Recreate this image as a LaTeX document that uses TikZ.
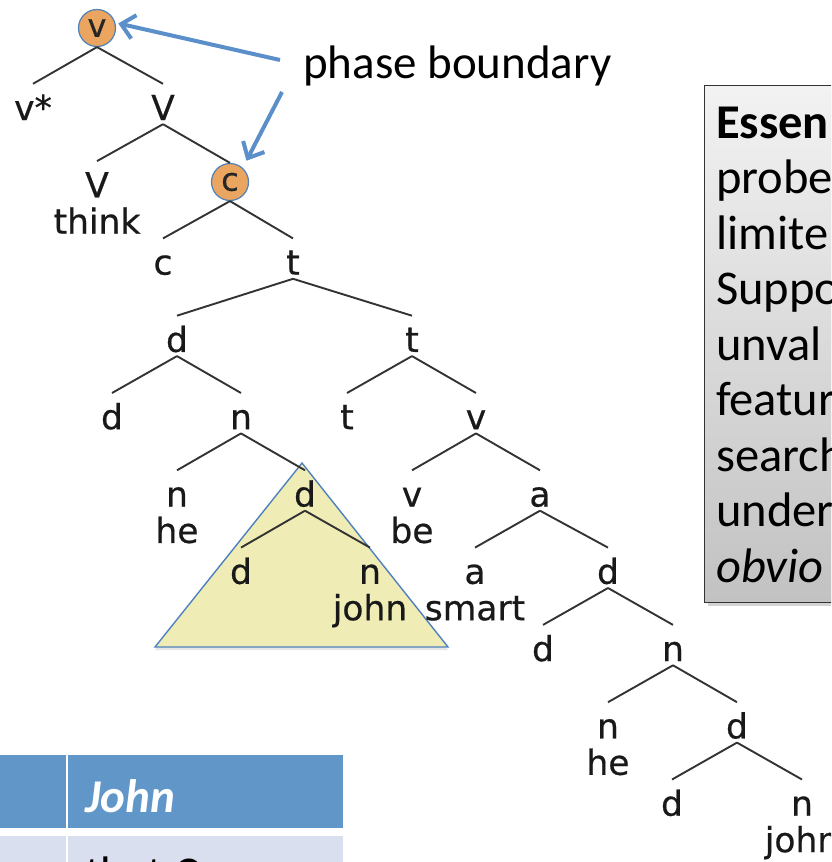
\documentclass[tikz,border=0pt]{standalone}
\usepackage{fontspec}
\setmainfont{Carlito}
\newfontfamily\treefont[FakeBold=0.6]{DejaVu Sans}
\usetikzlibrary{arrows.meta, positioning, shadows}
\definecolor{phaseorange}{HTML}{EAA560}
\definecolor{linkblue}{HTML}{4F81BD}
\definecolor{arrowblue}{HTML}{5B8FC9}
\definecolor{triyellow}{HTML}{EFECB6}
\definecolor{tablehead}{HTML}{6096C8}
\definecolor{tablerow}{HTML}{D9DFEE}

\begin{document}
\begin{tikzpicture}[
    x=1pt, y=-1pt,
    lab/.style={anchor=base, inner sep=0pt, text height=36pt, text depth=4pt, font=\treefont\fontsize{34.5}{36}\selectfont, text=black!90},
    word/.style={inner sep=0pt, text height=32pt, text depth=8pt, font=\treefont\fontsize{34.5}{36}\selectfont, text=black!90},
    phase/.style={circle, draw=linkblue, line width=1.2pt, fill=phaseorange, minimum size=37pt, inner sep=0pt, font=\treefont\fontsize{32}{32}\selectfont, text=black!85},
    edge/.style={draw=black!80, line width=1.9pt},
    arr/.style={-{Straight Barb[length=13pt, width=24pt]}, arrowblue, line width=4pt},
    note/.style={draw=black!80, line width=1.2pt, top color=black!5, bottom color=black!24, drop shadow={shadow xshift=3pt, shadow yshift=-3pt, opacity=0.35}, minimum width=200pt, minimum height=517pt, anchor=north west, inner sep=0pt},
    cellhead/.style={fill=tablehead, inner sep=0pt, anchor=north west},
    cellrow/.style={fill=tablerow, inner sep=0pt, anchor=north west},
]
\useasboundingbox (0,0) rectangle (831,862);
\clip (0,0) rectangle (831,862);

% Spell-out domain
\filldraw[fill=triyellow, draw=linkblue, line width=1.4pt, drop shadow={shadow xshift=0pt, shadow yshift=-3pt, opacity=0.2}]
    (302,463) -- (155,647) -- (448,647) -- cycle;

% Tree
\node[phase] (rootv) at (97,28) {v};
\node[lab] (vstar) at (33,120) {v*};
\node[lab] (V1) at (163,120) {V};
\node[lab] (V2) at (97,197.3) {V};
\node[word, below=0pt of V2] (think) {think};
\node[phase] (cc) at (230,182) {c};
\node[lab] (c3) at (163,274.6) {c};
\node[lab] (t3) at (293,274.6) {t};
\node[lab] (d4) at (177,351.9) {d};
\node[lab] (t4) at (412,351.9) {t};
\node[lab] (d5) at (112,429.2) {d};
\node[lab] (n5) at (241,429.2) {n};
\node[lab] (t5) at (347,429.2) {t};
\node[lab] (v5) at (476,429.2) {v};
\node[lab] (n6) at (177,506.5) {n};
\node[word, below=0pt of n6] (he1) {he};
\node[lab] (d6) at (305,506.5) {d};
\node[lab] (v6) at (412,506.5) {v};
\node[word, below=0pt of v6] (be) {be};
\node[lab] (a6) at (540,506.5) {a};
\node[lab] (d7) at (241,583.8) {d};
\node[lab] (n7) at (370,583.8) {n};
\node[word, below=0pt of n7] (john1) {john};
\node[lab] (a7) at (475,583.8) {a};
\node[word, below=0pt of a7] (smart) {smart};
\node[lab] (d7b) at (608,583.8) {d};
\node[lab] (d8) at (543,661.1) {d};
\node[lab] (n8) at (673,661.1) {n};
\node[lab] (n9) at (608,738.4) {n};
\node[word, below=0pt of n9] (he2) {he};
\node[lab] (d9) at (737,738.4) {d};
\node[lab] (d10) at (672,815.7) {d};
\node[lab] (n10) at (802,815.7) {n};
\node[word, below=0pt of n10] (john2) {john};

\foreach \a/\b in {rootv/vstar, rootv/V1, V1/V2, V1/cc, cc/c3, cc/t3, t3/d4, t3/t4,
                   d4/d5, d4/n5, t4/t5, t4/v5, n5/n6, n5/d6, v5/v6, v5/a6, d6/d7, d6/n7,
                   a6/a7, a6/d7b, d7b/d8, d7b/n8, n8/n9, n8/d9, d9/d10, d9/n10} {
    \draw[edge] (\a.south) -- (\b.north);
}

% Phase boundary label
\node[anchor=base west, inner sep=0pt, font=\fontsize{47}{56}\selectfont] (pb) at (303,78) {phase boundary};
\coordinate (pbtail1) at (280,60);
\coordinate (pbtail2) at (282,92);
\draw[arr, shorten >=3pt] (pbtail1) -- (rootv.16);
\draw[arr, shorten >=8pt] (pbtail2) -- (cc.48);

% Note box
\node[note] (note) at (704,85) {};
\node[anchor=base west, inner sep=0pt, text width=300pt, align=left, font=\fontsize{48.5}{55.5}\selectfont] (notetext) at (716,138)
    {\textbf{Essen}\\probe\\limite\\Suppo\\unval\\featur\\search\\under\\\textit{obvio}};

% Table
\node[cellhead, minimum width=66pt, minimum height=73pt] (th1) at (0,755) {};
\node[cellhead, minimum width=275pt, minimum height=73pt] (th2) at (68,755) {};
\node[cellrow, minimum width=66pt, minimum height=40pt] (tr1) at (0,836) {};
\node[cellrow, minimum width=275pt, minimum height=40pt] (tr2) at (68,836) {};
\node[anchor=base west, inner sep=0pt, text=white, font=\fontsize{47}{56}\selectfont\bfseries\itshape] (john) at (85,812) {John};
\node[anchor=base west, inner sep=0pt, font=\fontsize{47}{56}\selectfont] (rowtext) at (85,889) {that C};

\end{tikzpicture}
\end{document}
